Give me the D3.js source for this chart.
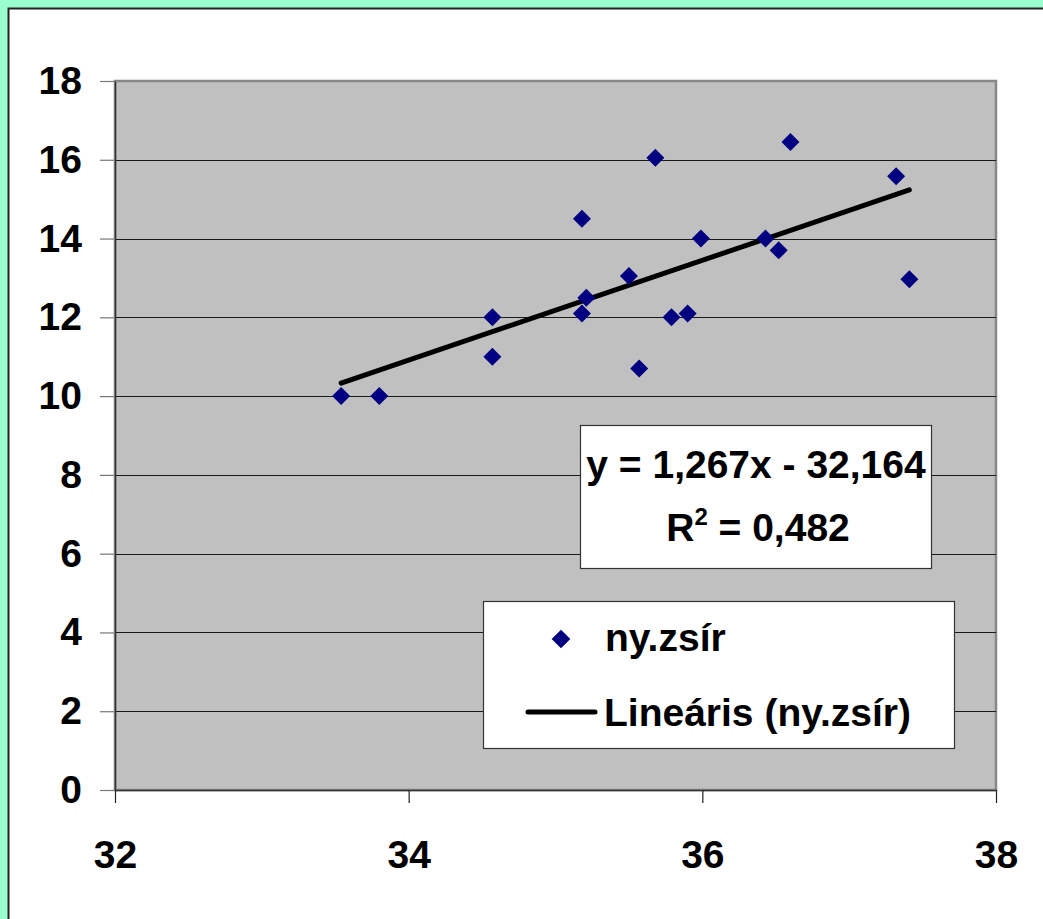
<!DOCTYPE html>
<html>
<head>
<meta charset="utf-8">
<script src="https://cdn.jsdelivr.net/npm/d3@7"></script>
<style>
  html, body { margin: 0; padding: 0; background: #99FFCC; }
  svg { display: block; }
  text { font-family: "Liberation Sans", Arial, sans-serif; font-weight: bold; fill: #000; }
</style>
</head>
<body>
<svg id="chart" width="1043" height="919"></svg>
<script>
// ---- data ----
const xValues = [33.54, 33.80, 34.57, 34.57, 35.18, 35.18, 35.21, 35.50, 35.57, 35.68, 35.79, 35.90, 35.99, 36.43, 36.52, 36.60, 37.32, 37.41];
const yValues = [10.0, 10.0, 12.0, 11.0, 14.5, 12.1, 12.5, 13.05, 10.7, 16.05, 12.0, 12.1, 14.0, 14.0, 13.7, 16.45, 15.58, 12.97];
const xTicks = [32, 34, 36, 38];
const yTicks = [0, 2, 4, 6, 8, 10, 12, 14, 16, 18];
const trendSlope = 1.267;
const trendIntercept = -32.164;
const trendR2 = 0.482;
const seriesName = "ny.zsír";
const trendName = "Lineáris (ny.zsír)";

const svg = d3.select("#chart");
const W = 1043, H = 919;
const L = 115, R = 996, T = 81, B = 790;
const FS = 39;

// white panel
svg.append("rect").attr("x", 8.5).attr("y", 8.5).attr("width", W + 20).attr("height", H + 20)
  .attr("fill", "#fff").attr("stroke", "#222").attr("stroke-width", 2);

const x = d3.scaleLinear().domain([32, 38]).range([L, R]);
const y = d3.scaleLinear().domain([0, 18]).range([B, T]);

// plot area
svg.append("rect").attr("x", L).attr("y", T).attr("width", R - L).attr("height", B - T)
  .attr("fill", "#C0C0C0").attr("stroke", "#888").attr("stroke-width", 2.5);

// gridlines
svg.append("g").selectAll("line").data(yTicks.filter(d => d > 0 && d < 18)).join("line")
  .attr("x1", L).attr("x2", R)
  .attr("y1", d => Math.round(y(d)) + 0.5).attr("y2", d => Math.round(y(d)) + 0.5)
  .attr("stroke", "#1a1a1a").attr("stroke-width", 1.2);

// axes
const yAxis = svg.append("g").attr("transform", `translate(${L},0)`)
  .call(d3.axisLeft(y).tickValues(yTicks).tickSize(15).tickSizeOuter(0).tickPadding(18).tickFormat(d3.format("d")));
const xAxis = svg.append("g").attr("transform", `translate(0,${B})`)
  .call(d3.axisBottom(x).tickValues(xTicks).tickSize(13).tickSizeOuter(0).tickPadding(37).tickFormat(d3.format("d")));
[yAxis, xAxis].forEach(g => {
  g.select(".domain").attr("stroke", "#333").attr("stroke-width", 1.5);
  g.selectAll(".tick line").attr("stroke", "#222").attr("stroke-width", 1.2);
  g.selectAll(".tick text").attr("font-size", FS).attr("font-family", "Liberation Sans, Arial, sans-serif")
    .attr("font-weight", "bold").attr("fill", "#000");
});
yAxis.selectAll(".tick line").attr("stroke", "#777");

// trend line
const xMin = d3.min(xValues), xMax = d3.max(xValues);
svg.append("line")
  .attr("x1", x(xMin)).attr("y1", y(trendSlope * xMin + trendIntercept))
  .attr("x2", x(xMax)).attr("y2", y(trendSlope * xMax + trendIntercept))
  .attr("stroke", "#000").attr("stroke-width", 5).attr("stroke-linecap", "round");

// points
const diamond = d3.symbol().type(d3.symbolSquare).size(162);
svg.append("g").selectAll("path").data(xValues.map((v, i) => [v, yValues[i]])).join("path")
  .attr("d", diamond)
  .attr("transform", d => `translate(${x(d[0])},${y(d[1])}) rotate(45)`)
  .attr("fill", "#000080");

// equation box
const fmt = v => d3.format(".3f")(v).replace(".", ",");
const eqText = `y = ${fmt(trendSlope)}x ${trendIntercept < 0 ? "-" : "+"} ${fmt(Math.abs(trendIntercept))}`;
svg.append("rect").attr("x", 580.5).attr("y", 425.5).attr("width", 351).attr("height", 143)
  .attr("fill", "#fff").attr("stroke", "#333").attr("stroke-width", 1.2);
svg.append("text").attr("x", 756).attr("y", 478).attr("text-anchor", "middle")
  .attr("font-size", FS).text(eqText);
const r2 = svg.append("text").attr("x", 758).attr("y", 541).attr("text-anchor", "middle").attr("font-size", FS);
r2.append("tspan").text("R");
r2.append("tspan").attr("font-size", 24).attr("dy", -16).text("2");
r2.append("tspan").attr("dy", 16).text(` = ${fmt(trendR2)}`);

// legend
svg.append("rect").attr("x", 483.5).attr("y", 601.5).attr("width", 471).attr("height", 147)
  .attr("fill", "#fff").attr("stroke", "#333").attr("stroke-width", 1.2);
svg.append("path").attr("d", d3.symbol().type(d3.symbolSquare).size(175))
  .attr("transform", "translate(561,639) rotate(45)").attr("fill", "#000080");
svg.append("text").attr("x", 605).attr("y", 651).attr("font-size", FS).text(seriesName);
svg.append("line").attr("x1", 528).attr("x2", 595).attr("y1", 712).attr("y2", 712)
  .attr("stroke", "#000").attr("stroke-width", 5).attr("stroke-linecap", "round");
svg.append("text").attr("x", 604).attr("y", 726).attr("font-size", FS).text(trendName);
</script>
</body>
</html>
